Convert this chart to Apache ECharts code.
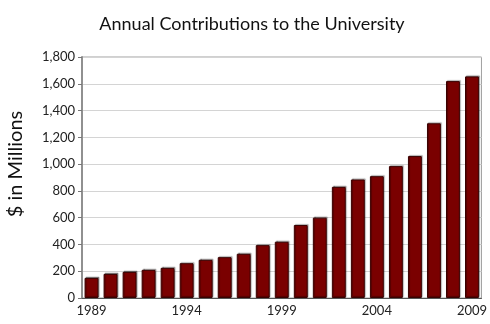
<!DOCTYPE html>
<html>
<head>
<meta charset="utf-8">
<script src="https://cdn.jsdelivr.net/npm/echarts@6/dist/echarts.min.js"></script>
<style>
html,body{margin:0;padding:0;background:#fff;}
#chart{width:490px;height:324px;}
</style>
</head>
<body>
<div id="chart"></div>
<script>
var years = ['1989','1990','1991','1992','1993','1994','1995','1996','1997','1998','1999','2000','2001','2002','2003','2004','2005','2006','2007','2008','2009'];
var contributions = [150, 180, 195, 210, 225, 260, 285, 305, 330, 395, 420, 545, 600, 830, 885, 910, 985, 1060, 1305, 1620, 1655];
var yTicks = [0, 200, 400, 600, 800, 1000, 1200, 1400, 1600, 1800];
var titleText = 'Annual Contributions to the University';
var yAxisTitle = '$ in Millions';

var chart = echarts.init(document.getElementById('chart'), null, {renderer: 'canvas'});
var font = 'Lato, "Open Sans", sans-serif';
chart.setOption({
  animation: false,
  title: {
    text: titleText,
    left: 247, top: 10, textAlign: 'center',
    textStyle: {fontFamily: font, fontSize: 18, fontWeight: 'normal', color: '#111'}
  },
  graphic: [{
    type: 'text',
    x: 16, y: 164,
    rotation: Math.PI / 2,
    style: {text: yAxisTitle, fontFamily: font, fontSize: 20, fill: '#111',
      textAlign: 'center', textVerticalAlign: 'middle'}
  }],
  grid: {left: 82, right: 7, top: 57, bottom: 26, show: true, borderColor: '#a0a0a0', borderWidth: 1},
  xAxis: {
    type: 'category',
    data: years,
    axisLine: {lineStyle: {color: '#555', width: 1}},
    axisTick: {show: false},
    axisLabel: {interval: 4, color: '#222', fontFamily: font, fontSize: 13, margin: 6}
  },
  yAxis: {
    type: 'value',
    min: yTicks[0], max: yTicks[yTicks.length - 1], interval: 200,
    axisLine: {show: true, lineStyle: {color: '#909090', width: 2}},
    axisTick: {show: true, length: 4, lineStyle: {color: '#777'}},
    axisLabel: {color: '#222', fontFamily: font, fontSize: 13, margin: 7,
      formatter: function (v) { return v.toLocaleString('en-US'); }},
    splitLine: {lineStyle: {color: '#d4d4d4', width: 1}}
  },
  series: [{
    type: 'bar',
    data: contributions,
    barCategoryGap: '27%',
    itemStyle: {color: '#7a0000', borderColor: '#3a0000', borderWidth: 1,
      shadowColor: 'rgba(0,0,0,0.35)', shadowOffsetX: 1, shadowOffsetY: -1, shadowBlur: 1}
  }]
});
</script>
</body>
</html>
